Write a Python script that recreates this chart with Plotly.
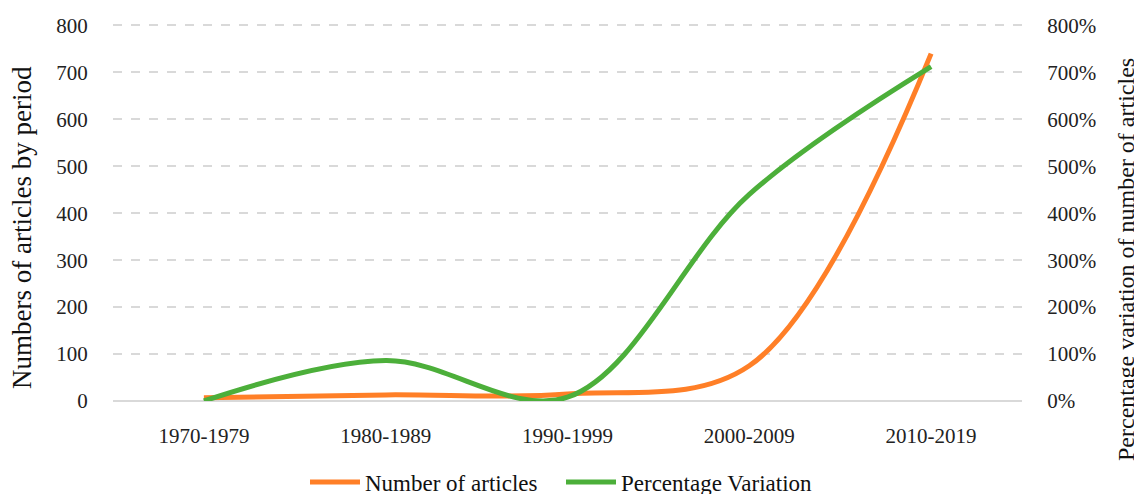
import plotly.graph_objects as go

periods = ["1970-1979", "1980-1989", "1990-1999", "2000-2009", "2010-2019"]
articles = [7, 13, 15, 75, 740]
pct_variation = [0, 86, 8, 440, 712]
left_ticks = [0, 100, 200, 300, 400, 500, 600, 700, 800]
right_tick_labels = ["0%", "100%", "200%", "300%", "400%", "500%", "600%", "700%", "800%"]

font_family = "Liberation Serif"
orange = "#FF7F27"
green = "#4CAF3A"

# page body has an 8px margin, so the figure is drawn 8px smaller and offset
W, H = 1134, 486
L, R, T, B = 105, 120, 16, 93
pw, ph = W - L - R, H - T - B

fig = go.Figure()
fig.add_trace(go.Scatter(
    x=periods, y=articles, name="Number of articles", mode="lines",
    line=dict(color=orange, width=5, shape="spline", smoothing=1.0),
    yaxis="y"))
fig.add_trace(go.Scatter(
    x=periods, y=pct_variation, name="Percentage Variation", mode="lines",
    line=dict(color=green, width=5, shape="spline", smoothing=1.0),
    yaxis="y2"))

ytop = 803

fig.update_layout(
    width=W, height=H,
    margin=dict(l=L, r=R, t=T, b=B, autoexpand=False),
    paper_bgcolor="white", plot_bgcolor="white",
    font=dict(family=font_family, size=21, color="#222222"),
    showlegend=True,
    legend=dict(orientation="h", x=(305 - 8 - L) / pw, xanchor="left",
                y=-(482 - 8 - (H - B)) / ph, yanchor="middle",
                font=dict(size=23, color="#111111"), traceorder="normal",
                entrywidth=191, entrywidthmode="pixels", itemwidth=50),
    xaxis=dict(range=[-0.5, 4.5], showgrid=False, showline=False, ticks="outside", ticklen=16,
               tickcolor="rgba(0,0,0,0)", tickfont=dict(size=21), automargin=False),
    yaxis=dict(range=[0, ytop], tickvals=left_ticks,
               showgrid=True, gridcolor="#D9D9D9",
               griddash="dash", gridwidth=1.5, zeroline=True, zerolinecolor="#D9D9D9",
               zerolinewidth=2, ticks="outside", ticklen=20, tickcolor="rgba(0,0,0,0)",
               automargin=False),
    yaxis2=dict(range=[0, ytop], tickvals=left_ticks, ticktext=right_tick_labels,
                overlaying="y", side="right",
                showgrid=False, zeroline=False,
                ticks="outside", ticklen=20, tickcolor="rgba(0,0,0,0)", automargin=False),
    annotations=[
        dict(text="Numbers of articles by period", xref="paper", yref="paper",
             x=(22 - 8 - L) / pw, y=(H - B - (228 - 8)) / ph, textangle=-90, showarrow=False,
             xanchor="center", yanchor="middle", font=dict(size=27, color="#111111")),
        dict(text="Percentage variation of number of articles", xref="paper", yref="paper",
             x=1 + (1126 - 8 - (W - R)) / pw, y=(H - B - (260 - 8)) / ph, textangle=-90,
             showarrow=False,
             xanchor="center", yanchor="middle", font=dict(size=24, color="#111111")),
    ],
)

fig.write_html("out.html")
